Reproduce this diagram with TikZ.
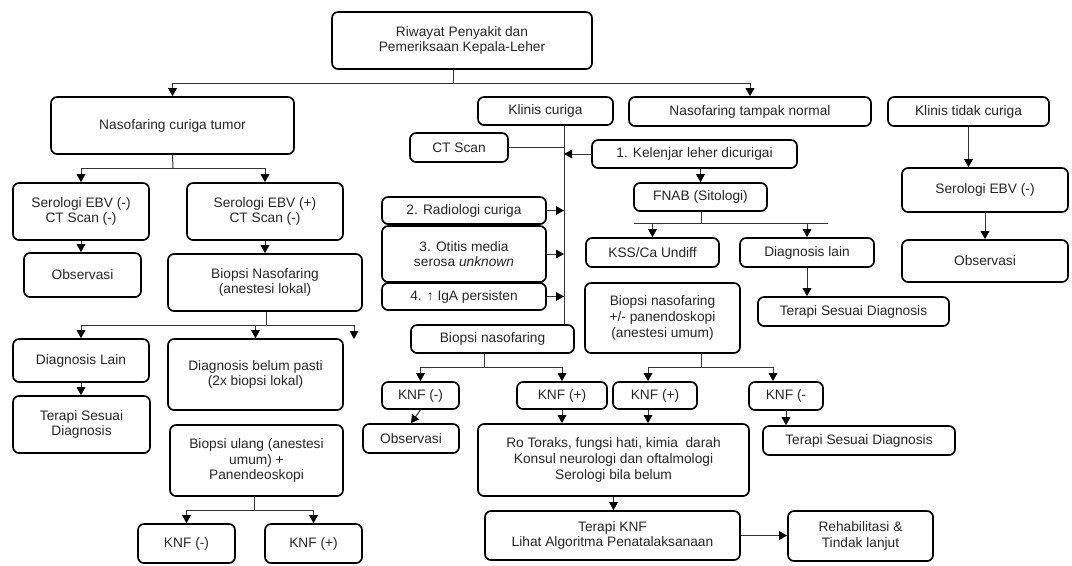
\documentclass[tikz,border=0pt]{standalone}
\usepackage{fontspec}
\setmainfont{Liberation Sans}
\usetikzlibrary{arrows.meta}
\tikzset{
  box/.style={draw=black, line width=1.25pt, rounded corners=4.5pt, fill=white,
    align=center, inner sep=0pt, font=\fontsize{10.3}{11.8}\selectfont, text=black!85},
  ln/.style={draw=black!80, line width=0.75pt},
  arr/.style={ln, -{Triangle[length=6pt,width=6.5pt,color=black]}}
}
\newcommand{\mybox}[6]{\node[box, minimum width={(#4-#2)*0.75pt}, minimum height={(#5-#3)*0.75pt}] (#1) at ({(#2+#4)/2},{(#3+#5)/2}) {#6};}
\begin{document}
\begin{tikzpicture}[x=0.75pt, y=-0.75pt]
\useasboundingbox (0,0) rectangle (1072,565);
% nodes
\mybox{root}{332}{12}{592}{69}{Riwayat Penyakit dan\\Pemeriksaan Kepala-Leher}
\mybox{nct}{51}{97}{294}{154}{Nasofaring curiga tumor}
\mybox{kc}{478}{97}{613}{125}{Klinis curiga}
\mybox{ntn}{629}{97}{871}{126}{Nasofaring tampak normal}
\mybox{ktc}{888}{97}{1049}{126}{Klinis tidak curiga}
\mybox{ct}{410}{133}{508}{162}{CT Scan}
\mybox{kel}{592}{140}{797}{168}{1. Kelenjar leher dicurigai}
\mybox{seroR}{902}{168}{1068}{212}{Serologi EBV (-)}
\mybox{sa}{13}{183}{149}{240}{Serologi EBV (-)\\CT Scan (-)}
\mybox{sb}{187}{183}{343}{240}{Serologi EBV (+)\\CT Scan (-)}
\mybox{fnab}{634}{183}{767}{211}{FNAB (Sitologi)}
\mybox{rad}{382}{197}{546}{224}{2. Radiologi curiga}
\mybox{oti}{382}{226}{546}{282}{3. Otitis media\\serosa \textit{unknown}}
\mybox{kss}{586}{238}{719}{267}{KSS/Ca Undiff}
\mybox{dl}{740}{238}{874}{267}{Diagnosis lain}
\mybox{obsR}{902}{240}{1068}{282}{Observasi}
\mybox{obsL}{24}{253}{141}{297}{Observasi}
\mybox{bnl}{168}{254}{362}{311}{Biopsi Nasofaring\\(anestesi lokal)}
\mybox{iga}{382}{283}{546}{310}{4. ↑ IgA persisten}
\mybox{bnu}{585}{283}{740}{353}{Biopsi nasofaring\\+/- panendoskopi\\(anestesi umum)}
\mybox{tsdR}{758}{297}{949}{326}{Terapi Sesuai Diagnosis}
\mybox{bn}{411}{325}{574}{353}{Biopsi nasofaring}
\mybox{dla}{13}{339}{149}{382}{Diagnosis Lain}
\mybox{dbp}{168}{339}{343}{410}{Diagnosis belum pasti\\(2x biopsi lokal)}
\mybox{knf1}{382}{382}{459}{409}{KNF (-)}
\mybox{knf2}{517}{382}{607}{409}{KNF (+)}
\mybox{knf3}{613}{382}{697}{409}{KNF (+)}
\mybox{knf4}{749}{382}{823}{410}{KNF (-}
\mybox{tsdL}{13}{396}{150}{453}{Terapi Sesuai\\Diagnosis}
\mybox{obsM}{363}{424}{459}{453}{Observasi}
\mybox{ro}{478}{424}{749}{496}{Ro Toraks, fungsi hati, kimia~~darah\\Konsul neurologi dan oftalmologi\\Serologi bila belum}
\mybox{tsdM}{763}{426}{955}{455}{Terapi Sesuai Diagnosis}
\mybox{bu}{170}{425}{343}{496}{Biopsi ulang (anestesi\\umum) +\\Panendeoskopi}
\mybox{tk}{485}{511}{740}{560}{Terapi KNF\\Lihat Algoritma Penatalaksanaan}
\mybox{reh}{788}{511}{933}{561}{Rehabilitasi \&\\Tindak lanjut}
\mybox{knf5}{138}{524}{235}{563}{KNF (-)}
\mybox{knf6}{265}{524}{362}{563}{KNF (+)}
% junction coordinates
\coordinate (j0) at (453,83);
\coordinate (j1) at (173,168);
\coordinate (j2) at (266,325);
\coordinate (dang) at (354,339);
\coordinate (j3) at (254,510);
\coordinate (vt) at (564,125);
\coordinate (j4) at (701,223);
\coordinate (h4a) at (634,223);
\coordinate (h4b) at (828,223);
\coordinate (j5) at (484,367);
\coordinate (j6) at (701,367);
\coordinate (a6) at (648,367);
\coordinate (b6) at (773,367);
% connectors left
\draw[ln] (root.south -| j0) -- (j0);
\draw[arr] (j0) -| (nct.north);
\draw[arr] (j0) -| (ntn.north);
\draw[ln] (nct.south) -- (j1);
\draw[arr] (j1) -| (sa.north);
\draw[arr] (j1) -| (sb.north);
\draw[arr] (sa.south) -- (sa.south |- obsL.north);
\draw[arr] (sb.south) -- (sb.south |- bnl.north);
\draw[ln] (bnl.south -| j2) -- (j2);
\draw[arr] (j2) -| (dla.north);
\draw[arr] (j2) -| (dbp.north);
\draw[arr] (j2) -| (dang);
\draw[arr] (dla.south) -- (dla.south |- tsdL.north);
\draw[ln] (bu.south -| j3) -- (j3);
\draw[arr] (j3) -| (knf5.north);
\draw[arr] (j3) -| (knf6.north);
% connectors middle
\draw[ln] (kc.south -| vt) -- (bn.north -| vt);
\draw[ln] (ct.east) -- (ct.east -| vt);
\draw[arr] (kel.west) -- (kel.west -| vt);
\draw[arr] (rad.east) -- (rad.east -| vt);
\draw[arr] (oti.east) -- (oti.east -| vt);
\draw[arr] (iga.east) -- (iga.east -| vt);
\draw[arr] (fnab.north |- kel.south) -- (fnab.north);
\draw[ln] (fnab.south -| j4) -- (j4);
\draw[ln] (h4a) -- (h4b);
\draw[arr] (kss.north |- j4) -- (kss.north);
\draw[arr] (dl.north |- j4) -- (dl.north);
\draw[arr] (dl.south) -- (dl.south |- tsdR.north);
\draw[ln] (bn.south -| j5) -- (j5);
\draw[arr] (j5) -| (knf1.north);
\draw[arr] (j5) -| (knf2.north);
\draw[ln] (bnu.south -| j6) -- (j6);
\draw[ln] (a6) -- (b6);
\draw[arr] (a6) -- (a6 |- knf3.north);
\draw[arr] (b6) -- (b6 |- knf4.north);
\draw[arr] (knf1.south) -- (obsM.north);
\draw[arr] (knf2.south) -- (knf2.south |- ro.north);
\draw[arr] (a6 |- knf3.south) -- (a6 |- ro.north);
\draw[arr] (knf4.south) -- (knf4.south |- tsdM.north);
\draw[arr] (ro.south) -- (ro.south |- tk.north);
\draw[arr] (tk.east) -- (tk.east -| reh.west);
% connectors right
\draw[arr] (ktc.south) -- (ktc.south |- seroR.north);
\draw[arr] (seroR.south) -- (seroR.south |- obsR.north);
\end{tikzpicture}
\end{document}
